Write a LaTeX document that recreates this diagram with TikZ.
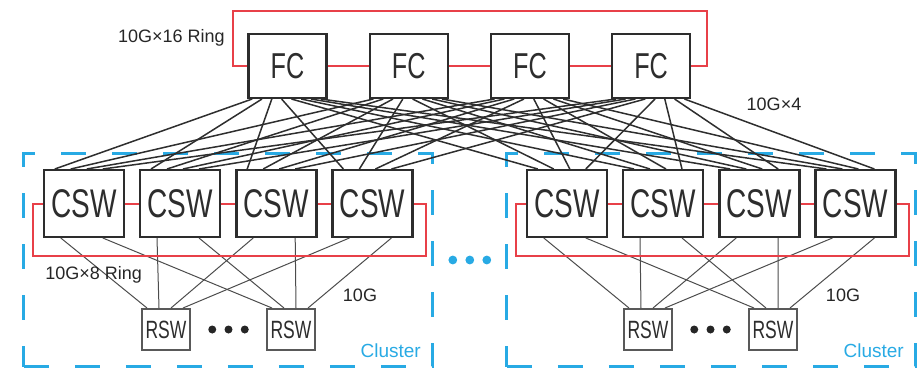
\documentclass[tikz,border=0pt]{standalone}
\usepackage{fontspec}
\setmainfont{Liberation Sans}
\newfontfamily\condfont[FakeStretch=0.7]{Liberation Sans}
\usetikzlibrary{positioning,fit,calc}
\definecolor{ringred}{RGB}{232,64,72}
\definecolor{clblue}{RGB}{40,170,228}
\definecolor{boxgray}{RGB}{45,45,45}
\tikzset{
  fcbox/.style={draw=boxgray, line width=1.2pt, fill=white, minimum width=39pt, minimum height=31.8pt, inner sep=0pt, font=\condfont\fontsize{18}{18}\selectfont, text=boxgray},
  cswbox/.style={fcbox, minimum width=40pt, minimum height=33.3pt, font=\condfont\fontsize{20}{20}\selectfont},
  rswbox/.style={draw=black!65, line width=0.8pt, fill=white, minimum width=24.2pt, minimum height=20.7pt, inner sep=0pt, font=\condfont\fontsize{12.5}{12.5}\selectfont, text=boxgray},
  ring/.style={draw=ringred, line width=1pt},
  fclink/.style={draw=black!82, line width=0.75pt},
  rswlink/.style={draw=black!70, line width=0.5pt},
  cluster/.style={draw=clblue, line width=1.4pt, dash pattern=on 12.5pt off 13pt, inner xsep=9.5pt, inner ysep=7.8pt},
  lbl/.style={font=\fontsize{9}{9}\selectfont, text=black!85, inner sep=1pt},
  cllbl/.style={font=\fontsize{9.5}{9.5}\selectfont, text=clblue, inner sep=0pt}
}
\begin{document}
\begin{tikzpicture}[x=0.5pt,y=-0.5pt]
  \useasboundingbox (0,0) rectangle (923,370);
  % fabric switches
  \node[fcbox] (fc1) at (287.5,66) {FC};
  \node[fcbox, right=20.4pt of fc1] (fc2) {FC};
  \node[fcbox, right=20.4pt of fc2] (fc3) {FC};
  \node[fcbox, right=20.4pt of fc3] (fc4) {FC};
  % cluster a
  \node[cswbox] (ca1) at (84,203.5) {CSW};
  \node[cswbox, right=6.9pt of ca1] (ca2) {CSW};
  \node[cswbox, right=6.9pt of ca2] (ca3) {CSW};
  \node[cswbox, right=6.9pt of ca3] (ca4) {CSW};
  \node[rswbox] (ra1) at (166,329.5) {RSW};
  \node[rswbox, right=37.5pt of ra1] (ra2) {RSW};
  % cluster b
  \node[cswbox] (cb1) at (567,203.5) {CSW};
  \node[cswbox, right=6.9pt of cb1] (cb2) {CSW};
  \node[cswbox, right=6.9pt of cb2] (cb3) {CSW};
  \node[cswbox, right=6.9pt of cb3] (cb4) {CSW};
  \node[rswbox] (rb1) at (648,329.5) {RSW};
  \node[rswbox, right=37.5pt of rb1] (rb2) {RSW};
  \node[cluster, fit=(ca1)(ca4)(ra1)(ra2)] (cla) {};
  \node[cluster, fit=(cb1)(cb4)(rb1)(rb2)] (clb) {};
  \node[cllbl, anchor=south east] (cta) at ([xshift=-6.5pt, yshift=5pt]cla.south east) {Cluster};
  \node[cllbl, anchor=south east] (ctb) at ([xshift=-6.5pt, yshift=5pt]clb.south east) {Cluster};
  % FC -> CSW mesh
  \foreach \i in {1,...,4}
    \foreach \c [count=\j] in {ca1,ca2,ca3,ca4,cb1,cb2,cb3,cb4}
      \draw[fclink] ([xshift={(\j-0.5)*4.9pt}]fc\i.south west) -- ([xshift={(6+(\i-1)*8)*1pt}]\c.north west);
  % CSW -> RSW
  \foreach \c in {a,b}
    \foreach \k in {1,...,4} {
      \draw[rswlink] ([xshift=9pt]c\c\k.south west) -- ([xshift={(3+(\k-1)*6)*1pt}]r\c1.north west);
      \draw[rswlink] ([xshift=30pt]c\c\k.south west) -- ([xshift={(3+(\k-1)*6)*1pt}]r\c2.north west);
    }
  % rings
  \draw[ring] (fc1.east) -- (fc2.west) (fc2.east) -- (fc3.west) (fc3.east) -- (fc4.west);
  \draw[ring] (fc1.west) -- ++(-14,0) -- ++(0,-55) -| ([xshift=8pt]fc4.east) -- (fc4.east);
  \foreach \c in {a,b} {
    \draw[ring] (c\c1.east) -- (c\c2.west) (c\c2.east) -- (c\c3.west) (c\c3.east) -- (c\c4.west);
    \draw[ring] (c\c1.west) -- ++(-10,0) -- ++(0,52) -| ([xshift=6pt]c\c4.east) -- (c\c4.east);
  }
  % labels
  \node[lbl, anchor=east] (l16) at (227,38) {10G×16 Ring};
  \node[lbl] (l4) at (774,104) {10G×4};
  \node[lbl, anchor=west] (l8) at (43,275) {10G×8 Ring};
  \node[lbl] (l10a) at (360,295) {10G};
  \node[lbl] (l10b) at (843,295) {10G};
  % dots
  \foreach \c in {a,b}
    \foreach \p in {0.37,0.5,0.63}
      \fill[black!85] ($(r\c1)!\p!(r\c2)$) circle (2pt);
  \foreach \d in {-17,0,17}
    \fill[clblue] ($(cla.east)!0.5!(clb.west)+(\d,0)$) circle (2.2pt);
\end{tikzpicture}
\end{document}
